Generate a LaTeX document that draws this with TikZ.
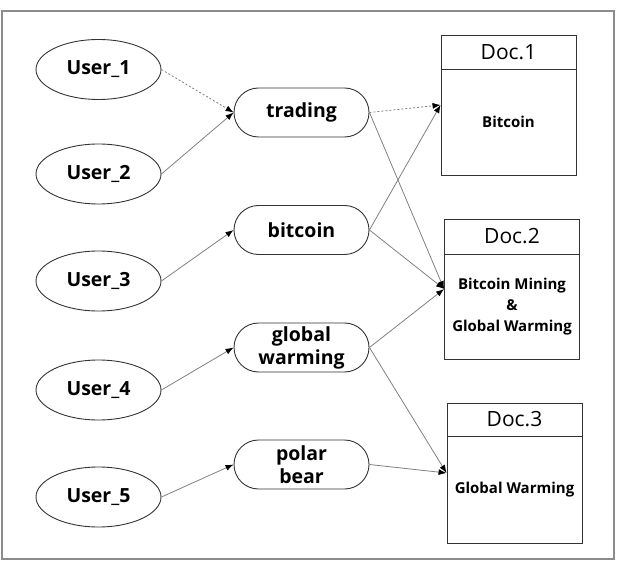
\documentclass[tikz,border=0pt]{standalone}
\usepackage{fontspec}
\setmainfont{Open Sans}
\usetikzlibrary{shapes.geometric,shapes.misc,arrows.meta}
\tikzset{
  userbox/.style={ellipse, draw=black!80, line width=0.9pt, minimum width=125pt, minimum height=60pt, inner sep=0pt, font=\fontsize{19.5}{22}\selectfont\bfseries},
  termbox/.style={rounded rectangle, draw=black!80, line width=0.9pt, minimum width=135pt, minimum height=49pt, inner sep=0pt, align=center, font=\fontsize{19.5}{23}\selectfont\bfseries},
  docbox/.style={rectangle, draw=black!80, line width=0.9pt, minimum width=135pt, minimum height=140pt, inner sep=0pt},
  dochead/.style={rectangle, draw=black!80, line width=0.9pt, minimum width=135pt, minimum height=34pt, inner sep=0pt, anchor=north, font=\fontsize{21}{24}\selectfont},
  doctext/.style={align=center, inner sep=0pt, font=\fontsize{15}{21}\selectfont\bfseries},
  link/.style={draw=black!50, line width=0.8pt, -{Latex[length=8pt,width=6pt,color=black]}},
  dlink/.style={link, dash pattern=on 2pt off 2pt},
  frame/.style={draw=black!45, line width=2pt}
}
\begin{document}
\begin{tikzpicture}[x=1pt,y=-1pt]
\useasboundingbox (0,0) rectangle (634,561);
\draw[frame] (2,11) rectangle (614,559);
% users
\node[userbox] (u1) at (98.5,69.5) {User\_1};
\node[userbox] (u2) at (98.5,174) {User\_2};
\node[userbox] (u3) at (98.5,281) {User\_3};
\node[userbox] (u4) at (98.5,390) {User\_4};
\node[userbox] (u5) at (98.5,497) {User\_5};
% terms
\node[termbox] (t1) at (301.5,112.5) {trading};
\node[termbox] (t2) at (301.5,230) {bitcoin};
\node[termbox] (t3) at (301.5,347.5) {global\\warming};
\node[termbox] (t4) at (301.5,464.5) {polar\\bear};
% docs
\node[docbox] (d1) at (508.5,105) {};
\node[dochead] (d1h) at (d1.north) {Doc.1};
\node[doctext] (d1t) at (508.5,122) {Bitcoin};
\node[docbox] (d2) at (512,289) {};
\node[dochead, minimum height=35pt] (d2h) at (d2.north) {Doc.2};
\node[doctext] (d2t) at (512,307) {Bitcoin Mining\\\&\\Global Warming};
\node[docbox] (d3) at (514.5,473) {};
\node[dochead, minimum height=33pt] (d3h) at (d3.north) {Doc.3};
\node[doctext] (d3t) at (514.5,490) {Global Warming};
% connectors
\draw[dlink] (u1.east) -- (t1.west);
\draw[link] (u2.east) -- (t1.west);
\draw[link] (u3.east) -- (t2.west);
\draw[link] (u4.east) -- (t3.west);
\draw[link] (u5.east) -- (t4.west);
\draw[dlink] (t1.east) -- (d1.west);
\draw[link] (t1.east) -- (d2.west);
\draw[link] (t2.east) -- (d1.west);
\draw[link] (t2.east) -- (d2.west);
\draw[link] (t3.east) -- (d2.west);
\draw[link] (t3.east) -- (d3.west);
\draw[link] (t4.east) -- (d3.west);
\end{tikzpicture}
\end{document}
